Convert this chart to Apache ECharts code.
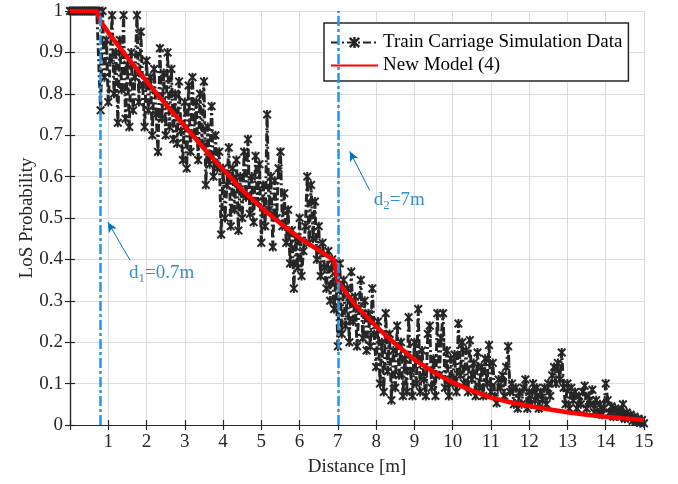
<!DOCTYPE html>
<html lang="en">
<head>
  <meta charset="UTF-8">
  <title>LoS Probability</title>
  <style>
    html, body { margin: 0; padding: 0; background: #fff; }
  </style>
</head>
<body>
<div id="main" style="width: 678px;height:484px;"></div>
<script src="https://cdn.jsdelivr.net/npm/echarts@6/dist/echarts.min.js"></script>
<script type="text/javascript">
  // simulation samples, one every 0.05 m from 0 to 15 m
  const simStep = 0.05
  const simProb = [
    1, 1, 1, 1, 1, 1, 1, 1, 1, 1, 1, 1, 1, 1, 1, 1,
    0.76, 1.0, 0.84, 0.93, 0.78, 0.88, 0.99, 0.80, 0.90, 0.73,
    0.93, 0.81, 0.99, 0.74, 0.87, 0.72, 0.90, 0.76, 0.84, 0.99,
    0.78, 0.95, 0.82, 0.72, 0.88, 0.76, 0.84, 0.70, 0.86, 0.75,
    0.66, 0.91, 0.74, 0.85, 0.70, 0.90, 0.72, 0.86, 0.69, 0.80,
    0.68, 0.83, 0.71, 0.64, 0.78, 0.62, 0.82, 0.66, 0.84, 0.70,
    0.78, 0.64, 0.80, 0.68, 0.83, 0.58, 0.72, 0.63, 0.77, 0.60,
    0.70, 0.62, 0.66, 0.46, 0.62, 0.50, 0.58, 0.67, 0.48, 0.62,
    0.52, 0.64, 0.47, 0.60, 0.50, 0.66, 0.55, 0.69, 0.51, 0.60,
    0.49, 0.65, 0.54, 0.63, 0.44, 0.58, 0.48, 0.75, 0.52, 0.60,
    0.43, 0.59, 0.50, 0.62, 0.66, 0.48, 0.56, 0.44, 0.52, 0.39,
    0.47, 0.33, 0.45, 0.38, 0.50, 0.36, 0.42, 0.48, 0.60, 0.44,
    0.58, 0.45, 0.54, 0.40, 0.48, 0.36, 0.44, 0.38, 0.33, 0.42,
    0.30, 0.40, 0.28, 0.36, 0.19, 0.39, 0.22, 0.35, 0.24, 0.33,
    0.20, 0.37, 0.25, 0.31, 0.19, 0.28, 0.35, 0.21, 0.30, 0.18,
    0.27, 0.19, 0.33, 0.22, 0.14, 0.25, 0.10, 0.20, 0.08, 0.27,
    0.13, 0.22, 0.06, 0.18, 0.09, 0.24, 0.12, 0.20, 0.07, 0.16,
    0.08, 0.26, 0.13, 0.07, 0.20, 0.10, 0.28, 0.08, 0.18, 0.11,
    0.07, 0.22, 0.24, 0.09, 0.16, 0.07, 0.27, 0.12, 0.21, 0.27,
    0.09, 0.18, 0.07, 0.16, 0.10, 0.17, 0.08, 0.245, 0.12, 0.20,
    0.10, 0.18, 0.08, 0.205, 0.11, 0.15, 0.07, 0.175, 0.09, 0.14,
    0.07, 0.16, 0.10, 0.193, 0.08, 0.15, 0.07, 0.053, 0.11, 0.09,
    0.12, 0.07, 0.14, 0.19, 0.08, 0.10, 0.05, 0.09, 0.04, 0.08,
    0.05, 0.09, 0.11, 0.04, 0.08, 0.05, 0.10, 0.06, 0.09, 0.04,
    0.08, 0.06, 0.09, 0.05, 0.10, 0.07, 0.12, 0.14, 0.10, 0.15,
    0.11, 0.175, 0.09, 0.05, 0.10, 0.04, 0.09, 0.06, 0.08, 0.04,
    0.07, 0.05, 0.08, 0.095, 0.04, 0.07, 0.05, 0.085, 0.03, 0.06,
    0.03, 0.05, 0.025, 0.04, 0.10, 0.06, 0.03, 0.045, 0.02, 0.04,
    0.025, 0.035, 0.02, 0.05, 0.015, 0.03, 0.02, 0.025, 0.01, 0.02,
    0.008, 0.015, 0.005, 0.012, 0.004
  ]

  // new model (4)
  const modelDist = [0, 0.7, 0.8, 1, 1.5, 2, 2.5, 3, 3.5, 4, 4.5, 5, 5.5, 6, 6.5, 6.9, 7,
    7.5, 8, 8.5, 9, 9.5, 10, 10.5, 11, 11.5, 12, 12.5, 13, 13.5, 14, 14.5, 15]
  const modelProb = [1, 1, 0.975, 0.948, 0.888, 0.83, 0.775, 0.722, 0.668, 0.617, 0.568, 0.525,
    0.487, 0.452, 0.422, 0.398, 0.346, 0.285, 0.238, 0.196, 0.158, 0.128, 0.103, 0.083,
    0.066, 0.055, 0.046, 0.038, 0.031, 0.025, 0.02, 0.016, 0.012]

  // break distances and their notes
  const breakDist = [0.8, 7]
  const noteText = ['{a|d}{s|1}{a|=0.7m}', '{a|d}{s|2}{a|=7m}']
  const notePos = [[1.54, 0.367], [7.94, 0.543]]
  const arrowFrom = [[1.57, 0.398], [7.83, 0.567]]
  const arrowTo = [[0.99, 0.49], [7.31, 0.661]]

  const font = 'Liberation Serif, Times New Roman, serif'
  const ink = '#262626'
  const fs = 19

  const simData = simProb.map((p, i) => [+(i * simStep).toFixed(2), p])
  const modelData = modelDist.map((d, i) => [d, modelProb[i]])

  // thick asterisk marker
  const starPath = 'path://M0,1.6 L1.6,0 L5,3.4 L8.4,0 L10,1.6 L6.6,5 L10,8.4 L8.4,10 L5,6.6 L1.6,10 L0,8.4 L3.4,5 Z M3.9,0 L6.1,0 L6.1,10 L3.9,10 Z'

  const Chart = echarts.init(document.getElementById('main'))

  const baseX = {
    type: 'value', min: 0, max: 15, interval: 1,
    axisLine: { show: true, lineStyle: { color: ink, width: 1.2 } },
    axisTick: { show: true, inside: true, length: 5, lineStyle: { color: ink, width: 1.2 } },
    splitLine: { show: false }
  }
  const baseY = {
    type: 'value', min: 0, max: 1, interval: 0.1,
    axisLine: { show: true, lineStyle: { color: ink, width: 1.2 } },
    axisTick: { show: true, inside: true, length: 5, lineStyle: { color: ink, width: 1.2 } },
    splitLine: { show: false }
  }

  const option = {
    animation: false,
    backgroundColor: '#fff',
    grid: { left: 70, right: 34, top: 11, bottom: 59 },
    legend: {
      data: [
        { name: 'Train Carriage Simulation Data' },
        { name: 'New Model (4)', itemStyle: { opacity: 0 } }
      ],
      orient: 'vertical',
      left: 324, top: 23,
      padding: [10, 6, 6, 6],
      itemWidth: 47, itemHeight: 14, itemGap: 4,
      backgroundColor: '#fff',
      borderColor: ink, borderWidth: 1.5,
      textStyle: { fontFamily: font, fontSize: fs, color: '#000' }
    },
    xAxis: [Object.assign({}, baseX, {
      position: 'bottom',
      name: 'Distance [m]', nameLocation: 'middle', nameGap: 33,
      nameMoveOverlap: false,
      nameTextStyle: { fontFamily: font, fontSize: fs, color: ink },
      axisLabel: {
        fontFamily: font, fontSize: fs, color: ink, margin: 8,
        formatter: (v) => v === 0 ? '' : String(v)
      },
      splitLine: { show: true, lineStyle: { color: '#dcdcdc', width: 1 } }
    }), Object.assign({}, baseX, {
      position: 'top', axisLabel: { show: false }
    })],
    yAxis: [Object.assign({}, baseY, {
      position: 'left',
      name: 'LoS Probability', nameLocation: 'middle', nameGap: 33,
      nameMoveOverlap: false,
      nameTextStyle: { fontFamily: font, fontSize: fs, color: ink },
      axisLabel: {
        fontFamily: font, fontSize: fs, color: ink, margin: 7,
        formatter: (v) => String(+v.toFixed(1))
      },
      splitLine: { show: true, lineStyle: { color: '#dcdcdc', width: 1 } }
    }), Object.assign({}, baseY, {
      position: 'right', axisLabel: { show: false }
    })],
    series: [{
      name: 'Train Carriage Simulation Data',
      type: 'line',
      data: simData,
      symbol: starPath,
      symbolSize: 9,
      showAllSymbol: true,
      itemStyle: { color: ink },
      lineStyle: { color: ink, width: 3, type: [8, 3, 2, 3] },
      z: 2
    }, {
      name: 'breaks',
      type: 'line',
      data: [],
      silent: true,
      z: 3,
      markLine: {
        silent: true,
        symbol: ['none', 'none'],
        label: { show: false },
        lineStyle: { color: '#1a9af0', width: 2.5, type: [10, 3, 3, 3] },
        data: breakDist.map(d => [{ coord: [d, 0] }, { coord: [d, 1] }])
      }
    }, {
      name: 'New Model (4)',
      type: 'line',
      data: modelData,
      symbol: 'none',
      lineStyle: { color: '#ff0000', width: 4.5 },
      itemStyle: { color: '#ff0000' },
      z: 4
    }, {
      name: 'notes',
      type: 'scatter',
      data: notePos,
      symbolSize: 0,
      silent: true,
      z: 5,
      label: {
        show: true,
        position: 'right',
        distance: 0,
        formatter: (p) => noteText[p.dataIndex],
        rich: {
          a: { fontFamily: font, fontSize: fs, color: '#0072bd' },
          s: { fontFamily: font, fontSize: 13, color: '#0072bd', padding: [11, 0, 0, 0] }
        }
      },
      markLine: {
        silent: true,
        symbol: ['none', 'arrow'],
        symbolSize: [7, 10],
        label: { show: false },
        lineStyle: { color: '#0072bd', width: 1, type: 'solid' },
        data: arrowFrom.map((f, i) => [{ coord: f }, { coord: arrowTo[i] }])
      }
    }]
  }

  Chart.setOption(option)
</script>
</body>
</html>
